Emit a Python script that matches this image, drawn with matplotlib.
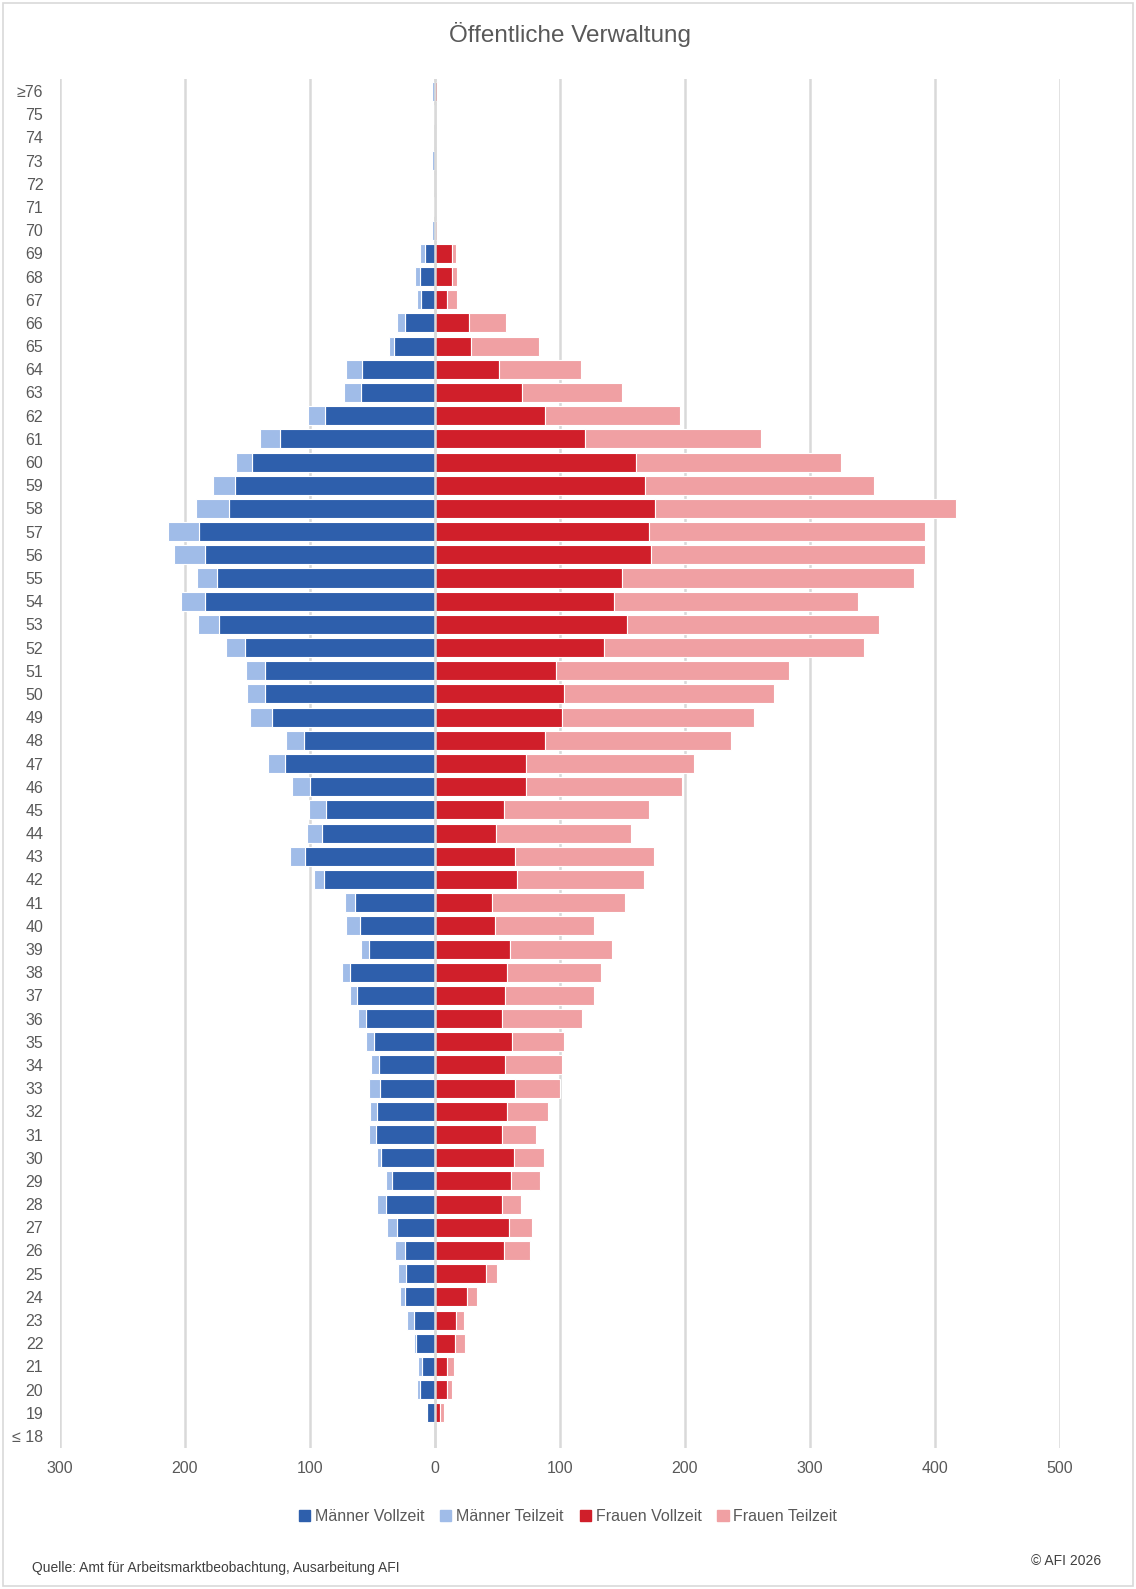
import matplotlib
matplotlib.use("Agg")
import matplotlib.pyplot as plt
from matplotlib.patches import Rectangle, Patch

# age groups from bottom (<=18) to top (>=76)
ages = ["≤ 18"] + [str(a) for a in range(19, 76)] + ["≥76"]

men_vz = [0, 6, 12, 10, 15, 17, 24, 23, 24, 30, 39, 34, 43, 47, 46, 44, 45, 49, 55, 62,
          68, 53, 60, 64, 89, 104, 90, 87, 100, 120, 105, 130, 136, 136, 152, 173, 184, 174, 184, 189,
          165, 160, 146, 124, 88, 59, 58, 33, 24, 11, 12, 8, 0, 0, 0, 0, 0, 0, 0]
men_tz = [0, 1, 2, 3.5, 2, 5.6, 4.3, 6.4, 8, 8, 7.2, 5.1, 3.7, 5.6, 6, 8.5, 6.5, 6.2, 6.4, 5.6,
          6.4, 6.5, 11, 8, 8, 11.7, 12, 13.5, 14.4, 13.8, 14.5, 18, 14, 15, 15, 16.5, 19, 16.5, 24.5, 24.5,
          26, 17.3, 13, 15.7, 13.8, 13.5, 13, 4, 6, 3.5, 4.3, 3.7, 2, 1, 0, 2, 0, 1, 2.4]
women_vz = [0, 4, 10, 9.3, 15.7, 16.5, 26, 41, 55, 59, 54, 61, 63, 54, 58, 64, 56, 62, 54, 56,
            58, 60, 48, 46, 66, 64, 49, 55, 73, 72.5, 88, 102, 103.5, 97, 135, 154, 143.5, 150, 173, 171,
            176, 168, 161, 120, 88, 70, 51.5, 29, 27, 10, 14, 14, 0, 0, 0, 0, 0, 0, 2]
women_tz = [0, 3, 4, 5.6, 8, 6.4, 8, 9, 21, 19, 15, 23, 24.5, 27, 32.5, 36, 46, 41, 64, 71,
            75, 82, 79, 106, 101, 111, 108, 116, 125, 135, 149, 153, 168, 186, 208, 201, 195, 233, 219, 221,
            240.5, 183, 164, 141, 108, 79.5, 65, 54.5, 30, 7.5, 3.7, 2.6, 1.5, 0, 0, 0, 0, 0, 0.5]

series = ["Männer Vollzeit", "Männer Teilzeit", "Frauen Vollzeit", "Frauen Teilzeit"]
colors = ["#2E5FAC", "#A0BCE8", "#D01F2A", "#F0A0A3"]
xticks = [-300, -200, -100, 0, 100, 200, 300, 400, 500]

txt = "#595959"
plt.rcParams['font.family'] = ['Liberation Sans', 'DejaVu Sans']

fig = plt.figure(figsize=(11.36, 15.89), dpi=100)
ax = fig.add_axes([0.0528, 0.089, 0.8802, 0.861])

y = list(range(len(ages)))
h = 0.82
ax.barh(y, [-v for v in men_vz], height=h, color=colors[0], edgecolor="white", linewidth=0.8, zorder=3)
ax.barh(y, [-v for v in men_tz], left=[-v for v in men_vz], height=h, color=colors[1],
        edgecolor="white", linewidth=0.8, zorder=3)
ax.barh(y, women_vz, height=h, color=colors[2], edgecolor="white", linewidth=0.8, zorder=3)
ax.barh(y, women_tz, left=women_vz, height=h, color=colors[3], edgecolor="white", linewidth=0.8, zorder=3)

ax.set_xlim(-300, 500)
ax.set_ylim(-0.5, len(ages) - 0.5)
ax.set_xticks(xticks)
ax.set_xticklabels([str(abs(t)) for t in xticks])
ax.set_yticks(y)
ax.set_yticklabels(ages)
ax.tick_params(axis="both", length=0, labelsize=11.5, colors=txt)
ax.tick_params(axis="x", pad=10)
ax.tick_params(axis="y", pad=12)
for s in ax.spines.values():
    s.set_visible(False)
for t in xticks:
    ax.axvline(t, color="#D9D9D9", linewidth=1.8, zorder=1)
ax.axvline(0, color="#D9D9D9", linewidth=1.8, zorder=4)

fig.text(0.502, 0.978, "Öffentliche Verwaltung", ha="center", va="center", fontsize=17.5, color=txt)

handles = [Patch(color=c, label=s) for c, s in zip(colors, series)]
fig.legend(handles=handles, loc="center", bbox_to_anchor=(0.5, 0.0455), ncol=4, frameon=False,
           fontsize=11.5, labelcolor=txt, handlelength=0.7, handleheight=0.7,
           handletextpad=0.3, columnspacing=1.0)

fig.text(0.028, 0.0135, "Quelle: Amt für Arbeitsmarktbeobachtung, Ausarbeitung AFI", ha="left", va="center",
         fontsize=10, color="#404040")
fig.text(0.969, 0.0175, "© AFI 2026", ha="right", va="center", fontsize=10, color="#404040")

fig.patches.append(Rectangle((0.003, 0.002), 0.994, 0.996, transform=fig.transFigure,
                             fill=False, edgecolor="#D9D9D9", linewidth=1.2))

fig.savefig("out.png", dpi=100)
